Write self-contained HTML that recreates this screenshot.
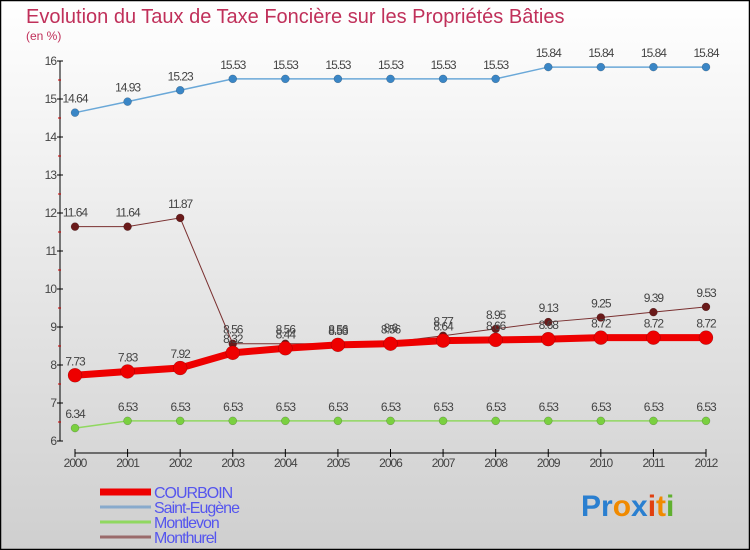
<!DOCTYPE html>
<html><head><meta charset="utf-8"><style>
body{margin:0}
#wrap{width:750px;height:550px;position:relative;overflow:hidden}
text{font-family:"Liberation Sans",sans-serif}
</style></head><body>
<div id="wrap">
<svg id="chart" width="750" height="550" xmlns="http://www.w3.org/2000/svg">
<defs><linearGradient id="bg" x1="0" y1="0" x2="0" y2="1"><stop offset="0" stop-color="#ffffff"/><stop offset="1" stop-color="#cfcfcf"/></linearGradient></defs>
<rect x="0.5" y="0.5" width="749" height="549" fill="url(#bg)" stroke="#000" stroke-width="1.5"/>
<text x="26" y="23" font-size="20" fill="#c0305a">Evolution du Taux de Taxe Foncière sur les Propriétés Bâties</text>
<text x="26" y="40" font-size="12" fill="#c0305a">(en %)</text>
<g id="axes"></g><g id="series"></g><g id="legend"></g>
<text x="581" y="516" font-size="30" font-weight="bold"><tspan fill="#2a7fd0">Pr</tspan><tspan fill="#f08a00">o</tspan><tspan fill="#2a7fd0">x</tspan><tspan fill="#e04010">i</tspan><tspan fill="#f08a00">t</tspan><tspan fill="#60b030">i</tspan></text>
</svg></div>
<script>
const years=[2000,2001,2002,2003,2004,2005,2006,2007,2008,2009,2010,2011,2012];
const yTicks=[6,7,8,9,10,11,12,13,14,15,16];
const courboin=[7.73,7.83,7.92,8.32,8.44,8.53,8.56,8.64,8.66,8.68,8.72,8.72,8.72];
const saintEugene=[14.64,14.93,15.23,15.53,15.53,15.53,15.53,15.53,15.53,15.84,15.84,15.84,15.84];
const montlevon=[6.34,6.53,6.53,6.53,6.53,6.53,6.53,6.53,6.53,6.53,6.53,6.53,6.53];
const monthurel=[11.64,11.64,11.87,8.56,8.56,8.56,8.6,8.77,8.95,9.13,9.25,9.39,9.53];
const NS='http://www.w3.org/2000/svg';
const xs=i=>75+i*(706-75)/(years.length-1);
const ys=v=>441-(v-6)*38;
function mk(tag,attrs,parent){const e=document.createElementNS(NS,tag);for(const k in attrs)e.setAttribute(k,attrs[k]);parent.appendChild(e);return e;}
const axes=document.getElementById('axes');
let a=mk('line',{x1:60,y1:61,x2:60,y2:441,stroke:'#000','stroke-width':1},axes);


a=mk('line',{x1:75,y1:453,x2:706,y2:453,stroke:'#000','stroke-width':1},axes);


yTicks.forEach((t,i)=>{
  mk('line',{x1:57,y1:ys(t),x2:63,y2:ys(t),stroke:'#000'},axes);
  if(i<yTicks.length-1)mk('line',{x1:58,y1:ys(t+0.5),x2:61,y2:ys(t+0.5),stroke:'#d00000'},axes);
  const tx=mk('text',{x:56,y:ys(t)+4,'font-size':12,fill:'#444','text-anchor':'end','letter-spacing':'-1'},axes);
  tx.textContent=t;
  
  
});
years.forEach((y,i)=>{
  mk('line',{x1:xs(i),y1:449,x2:xs(i),y2:457,stroke:'#000'},axes);
  const tx=mk('text',{x:xs(i),y:467,'font-size':12,fill:'#444','text-anchor':'middle','letter-spacing':'-1'},axes);
  tx.textContent=y;
  
  
});
const sg=document.getElementById('series');
function drawSeries(vals,name,color,dot,w,r){
  const g=mk('g',{},sg);
  
  
  mk('polyline',{points:vals.map((v,i)=>xs(i)+','+ys(v)).join(' '),fill:'none',stroke:color,'stroke-width':w},g);
  vals.forEach((v,i)=>{
    const c=mk('circle',{cx:xs(i),cy:ys(v),r:r,fill:dot,stroke:'rgba(0,0,0,0.3)','stroke-width':0.5},g);
    
    
    const t=mk('text',{x:xs(i),y:ys(v)-10,'font-size':12,fill:'#444','text-anchor':'middle','letter-spacing':'-1'},g);
    t.textContent=String(v);
    
    
  });
}
drawSeries(saintEugene,'saint-eugene','#6aa8d8','#3a86c6',1.5,4);
drawSeries(montlevon,'montlevon','#90d860','#7ad040',1.5,4);
drawSeries(monthurel,'monthurel','#7a3030','#6a1a1a',1,4);
drawSeries(courboin,'courboin','#ee0000','#ee0000',7,7);
const lg=document.getElementById('legend');
const legendItems=[['COURBOIN','#ee0000',7],['Saint-Eugène','#88aacc',3],['Montlevon','#90d860',3],['Monthurel','#9a6a6a',3]];
legendItems.forEach((it,i)=>{
  const g=mk('g',{},lg);
  
  
  const y=492+i*15;
  mk('line',{x1:100,y1:y,x2:151,y2:y,stroke:it[1],'stroke-width':it[2]},g);
  const t=mk('text',{x:154,y:y+6,'font-size':16,fill:'#5555ee','letter-spacing':'-1'},g);
  t.textContent=it[0];
});
</script>
</body></html>
